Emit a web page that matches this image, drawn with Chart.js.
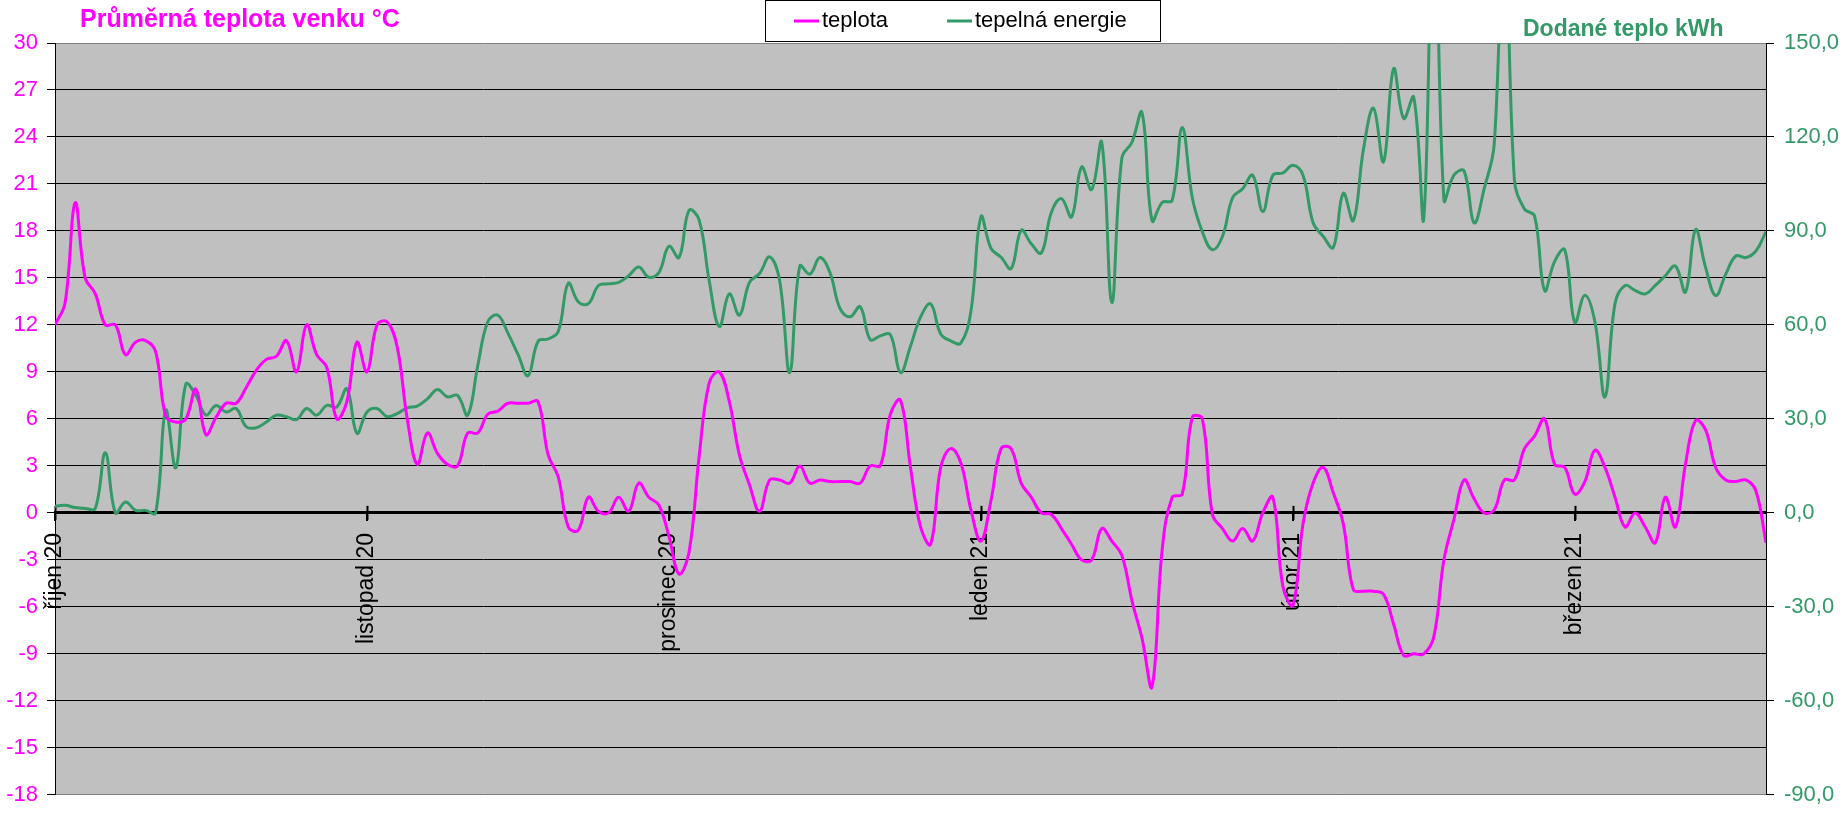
<!DOCTYPE html>
<html>
<head>
<meta charset="utf-8">
<title>teplota / tepelná energie</title>
<script src="https://cdn.jsdelivr.net/npm/chart.js@4.4.1/dist/chart.umd.min.js"></script>
<style>
  html, body { margin: 0; padding: 0; background: #fff; }
  #wrap { width: 1842px; height: 818px; position: relative; }
</style>
</head>
<body>
<div id="wrap"><canvas id="chart"></canvas></div>
<script>
// denní hodnoty od 1.10.2020
const monthTickIndex = [0, 31, 61, 92, 123, 151];
const monthTickLabels = ['říjen 20', 'listopad 20', 'prosinec 20', 'leden 21', 'únor 21', 'březen 21'];

// průměrná teplota venku (°C)
const teplota = [
  12.0, 13.4, 19.8, 15.0, 14.0, 12.0, 12.0, 10.1, 10.9, 11.0,
  10.3, 6.2, 5.8, 6.0, 7.9, 5.0, 6.1, 7.0, 7.0, 8.0,
  9.1, 9.8, 10.0, 11.0, 9.0, 12.0, 10.1, 9.3, 6.0, 7.1,
  10.9, 9.0, 12.0, 12.2, 10.6, 6.0, 3.1, 5.1, 3.8, 3.1,
  3.0, 5.1, 5.1, 6.3, 6.5, 7.0, 7.0, 7.0, 7.1, 3.7,
  2.3, -0.9, -1.1, 1.0, 0.1, 0.0, 1.0, 0.1, 1.9, 1.0,
  0.5, -1.5, -3.9, -2.5, 3.6, 8.3, 9.0, 7.1, 3.7, 1.8,
  0.1, 2.1, 2.1, 1.9, 3.0, 1.9, 2.1, 2.0, 2.0, 2.0,
  1.9, 3.0, 3.0, 6.3, 7.2, 2.9, -0.9, -2.0, 2.9, 4.1,
  3.2, 0.2, -1.8, 0.8, 4.1, 4.1, 1.9, 1.0, 0.0, -0.1,
  -1.0, -2.0, -3.0, -3.0, -1.0, -1.8, -2.7, -5.6, -8.0, -11.1,
  -2.4, 1.0, 1.2, 6.1, 6.0, -0.1, -1.0, -1.8, -1.0, -1.8,
  0.0, 1.0, -4.7, -5.9, -0.7, 1.9, 2.9, 1.3, -0.7, -4.9,
  -5.0, -5.0, -5.2, -7.1, -9.1, -9.0, -9.0, -7.9, -3.0, -0.4,
  2.1, 0.9, 0.0, 0.2, 2.1, 2.1, 4.1, 4.9, 6.0, 3.1,
  2.9, 1.2, 2.0, 4.0, 2.9, 1.0, -0.9, 0.0, -0.9, -1.9,
  1.0, -0.9, 3.1, 5.9, 5.3, 2.9, 2.1, 2.0, 2.1, 1.4,
  -1.9
];

// dodané teplo (kWh)
const tepelnaEnergie = [
  2.1, 2.4, 1.7, 1.4, 1.4, 19.2, 0.0, 3.5, 0.8, 0.8,
  0.0, 32.8, 14.4, 41.1, 37.5, 31.2, 34.3, 32.2, 33.3, 27.5,
  27.2, 29.0, 31.2, 30.7, 29.8, 33.3, 31.2, 34.3, 33.8, 39.6,
  25.4, 32.2, 33.3, 30.7, 31.7, 33.5, 34.1, 36.4, 39.4, 37.0,
  37.5, 31.2, 46.9, 61.0, 63.1, 57.4, 50.6, 43.8, 54.8, 55.5,
  57.9, 73.3, 67.3, 66.8, 72.6, 73.1, 73.6, 75.7, 78.5, 75.2,
  76.7, 85.1, 81.5, 96.6, 93.5, 74.1, 59.5, 69.9, 63.1, 73.6,
  76.4, 81.7, 74.1, 44.8, 78.8, 76.2, 81.5, 76.7, 65.2, 62.6,
  65.8, 55.3, 56.5, 56.9, 44.8, 53.2, 62.5, 66.7, 57.1, 54.9,
  54.2, 64.3, 94.5, 84.4, 81.6, 78.0, 90.2, 85.9, 83.0, 96.0,
  100.3, 94.5, 110.4, 103.2, 118.3, 67.2, 113.3, 118.3, 127.8, 93.3,
  99.1, 99.8, 123.0, 100.6, 89.7, 84.0, 88.3, 100.6, 103.5, 107.8,
  96.2, 107.8, 108.5, 111.0, 107.8, 92.6, 88.3, 84.7, 102.0, 93.3,
  116.0, 129.2, 112.1, 141.8, 125.9, 132.7, 94.1, 210.0, 99.9, 107.8,
  109.2, 92.6, 103.5, 117.9, 195.0, 106.4, 97.0, 94.8, 71.0, 80.3,
  84.0, 60.8, 69.5, 61.0, 37.0, 66.8, 72.6, 71.0, 69.9, 72.6,
  75.7, 78.8, 70.5, 90.4, 78.3, 69.4, 76.2, 82.0, 81.5, 83.6,
  89.8
];

const days = teplota.map((_, i) => {
  const d = new Date(2020, 9, 1 + i);
  return d.getDate() + '.' + (d.getMonth() + 1) + '.' + d.getFullYear();
});

const MAGENTA = '#FF00FF';
const GREEN = '#339966';
const FONT = '"Liberation Sans", Arial, sans-serif';

Chart.defaults.font.family = FONT;

// šedé pozadí grafu
const plotBg = {
  id: 'plotBg',
  beforeDraw(chart) {
    const { ctx, chartArea: a } = chart;
    ctx.save();
    ctx.fillStyle = '#C0C0C0';
    ctx.fillRect(a.left, a.top, a.right - a.left, a.bottom - a.top);
    ctx.restore();
  }
};

// značky měsíců přes osu x
const crossTicks = {
  id: 'crossTicks',
  beforeDatasetsDraw(chart) {
    const { ctx, scales } = chart;
    const y0 = scales.y.getPixelForValue(0);
    ctx.save();
    ctx.strokeStyle = '#000';
    ctx.lineWidth = 2;
    monthTickIndex.forEach(i => {
      const x = Math.round(scales.x.getPixelForValue(i)) + 0.5;
      ctx.beginPath();
      ctx.moveTo(x, y0 - 7);
      ctx.lineTo(x, y0 + 7);
      ctx.stroke();
    });
    ctx.restore();
  }
};

// nadpisy os a legenda v rámečku
const headers = {
  id: 'headers',
  afterDraw(chart) {
    const { ctx } = chart;
    ctx.save();
    ctx.textBaseline = 'middle';
    ctx.font = 'bold 25px ' + FONT;
    ctx.fillStyle = MAGENTA;
    ctx.fillText('Průměrná teplota venku °C', 80, 20);
    ctx.font = 'bold 23px ' + FONT;
    ctx.fillStyle = GREEN;
    ctx.fillText('Dodané teplo kWh', 1523, 30);

    // legenda
    ctx.fillStyle = '#fff';
    ctx.fillRect(765, 0, 395, 41);
    ctx.strokeStyle = '#000';
    ctx.lineWidth = 1;
    ctx.strokeRect(765.5, 0.5, 395, 41);
    const items = [
      { x: 794, ds: chart.data.datasets[0] },
      { x: 947, ds: chart.data.datasets[1] }
    ];
    ctx.font = '22px ' + FONT;
    items.forEach(it => {
      ctx.strokeStyle = it.ds.borderColor;
      ctx.lineWidth = 3;
      ctx.beginPath();
      ctx.moveTo(it.x, 21);
      ctx.lineTo(it.x + 25, 21);
      ctx.stroke();
      ctx.fillStyle = '#000';
      ctx.fillText(it.ds.label, it.x + 28, 21);
    });
    ctx.restore();
  }
};

new Chart(document.getElementById('chart'), {
  type: 'line',
  data: {
    labels: days,
    datasets: [
      {
        label: 'teplota',
        data: teplota,
        yAxisID: 'y',
        borderColor: MAGENTA,
        borderWidth: 3,
        pointRadius: 0,
        tension: 0.4,
        clip: 0
      },
      {
        label: 'tepelná energie',
        data: tepelnaEnergie,
        yAxisID: 'y1',
        borderColor: GREEN,
        borderWidth: 3,
        pointRadius: 0,
        tension: 0.4,
        clip: 0
      }
    ]
  },
  options: {
    responsive: true,
    maintainAspectRatio: false,
    animation: false,
    layout: { padding: { top: 43, bottom: 13, left: 0, right: 0 } },
    plugins: {
      legend: { display: false },
      tooltip: { enabled: false }
    },
    scales: {
      x: {
        type: 'category',
        position: { y: 0 },
        offset: false,
        afterBuildTicks: (scale) => {
          scale.ticks = monthTickIndex.map(v => ({ value: v }));
        },
        grid: { drawOnChartArea: false, drawTicks: true, tickLength: 7, color: '#000', lineWidth: 2 },
        border: { display: true, color: '#000', width: 3 },
        ticks: {
          autoSkip: false,
          minRotation: 90,
          maxRotation: 90,
          padding: 13,
          color: '#000',
          font: { size: 23 },
          callback: (value) => monthTickLabels[monthTickIndex.indexOf(value)]
        }
      },
      y: {
        position: 'left',
        min: -18,
        max: 30,
        afterFit: (scale) => { scale.width = 55; },
        grid: {
          color: (c) => (c.tick && (c.tick.value === 30 || c.tick.value === -18)) ? '#808080' : '#000',
          tickColor: '#000',
          lineWidth: 1,
          tickLength: 8
        },
        border: { display: true, color: '#000', width: 1 },
        ticks: { stepSize: 3, padding: 9, color: MAGENTA, font: { size: 22 } }
      },
      y1: {
        position: 'right',
        min: -90,
        max: 150,
        afterFit: (scale) => { scale.width = 76; },
        grid: { drawOnChartArea: false, tickColor: '#000', tickLength: 8 },
        border: { display: true, color: '#000', width: 1 },
        ticks: {
          stepSize: 30,
          padding: 10,
          color: GREEN,
          font: { size: 22 },
          callback: (v) => v.toFixed(1).replace('.', ',')
        }
      }
    }
  },
  plugins: [plotBg, crossTicks, headers]
});
</script>
</body>
</html>
